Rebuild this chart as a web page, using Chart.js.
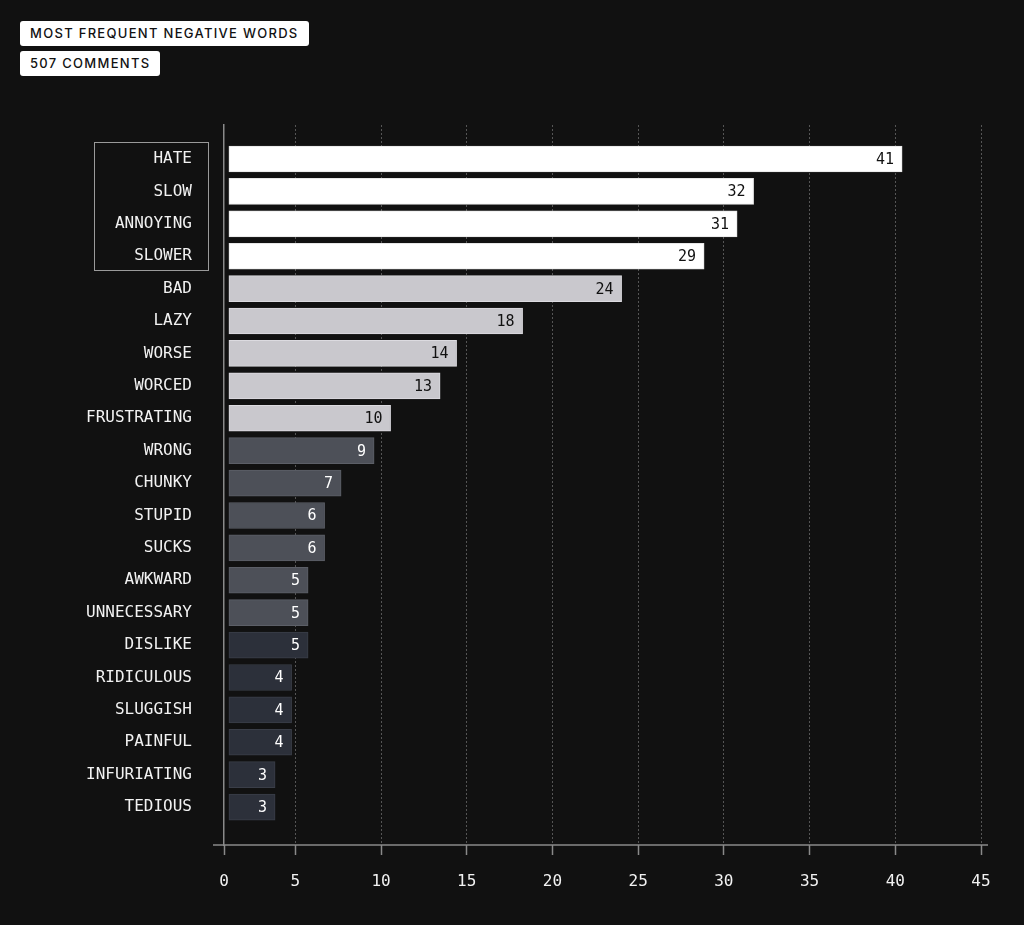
<!DOCTYPE html>
<html>
<head>
<meta charset="utf-8">
<script src="https://cdn.jsdelivr.net/npm/chart.js@4.4.1/dist/chart.umd.min.js"></script>
<style>
  html, body { margin: 0; padding: 0; background: #111111; }
  #wrap { position: relative; width: 1024px; height: 925px; }
  .tag { position: absolute; left: 20px; height: 25px; line-height: 25px; background: #ffffff; color: #111;
         border-radius: 3px; font-family: Inter, "Noto Sans", sans-serif; font-size: 13px; font-weight: 500;
         letter-spacing: 1.3px; padding: 0 10px; box-sizing: border-box; white-space: nowrap; }
  canvas { position: absolute; left: 0; top: 0; }
</style>
</head>
<body>
<div id="wrap">
  <canvas id="c" width="1024" height="925"></canvas>
  <div class="tag" style="top:21px;">MOST FREQUENT NEGATIVE WORDS</div>
  <div class="tag" style="top:51px;">507 COMMENTS</div>
</div>
<script>
const categories = ["HATE","SLOW","ANNOYING","SLOWER","BAD","LAZY","WORSE","WORCED","FRUSTRATING","WRONG",
  "CHUNKY","STUPID","SUCKS","AWKWARD","UNNECESSARY","DISLIKE","RIDICULOUS","SLUGGISH","PAINFUL","INFURIATING","TEDIOUS"];
const values = [41,32,31,29,24,18,14,13,10,9,7,6,6,5,5,5,4,4,4,3,3];
const groups = [0,0,0,0,1,1,1,1,1,2,2,2,2,2,2,3,3,3,3,3,3];
const xTickLabels = ["0","5","10","15","20","25","30","35","40","45"];
const xTickValues = [0,5,10,15,20,25,30,35,40,45];
const highlightCount = 4;

const fills = ["#ffffff","#c9c8cd","#4d5058","#2c303a"];
const edges = ["#e6e6e6","#dcdbe0","#5c5f67","#3a3e48"];
const labelInk = ["#111111","#111111","#ffffff","#ffffff"];
const MONO = "'DejaVu Sans Mono', 'Liberation Mono', monospace";

// visible axis: the first tick sits on the y-axis line, as in the reference
const X_AXIS_START = 0.84;

const valueLabels = {
  id: 'valueLabels',
  afterDatasetsDraw(chart) {
    const ctx = chart.ctx;
    const meta = chart.getDatasetMeta(0);
    ctx.save();
    ctx.font = "15px " + MONO;
    ctx.textAlign = 'right';
    ctx.textBaseline = 'middle';
    meta.data.forEach((bar, i) => {
      ctx.fillStyle = labelInk[groups[i]];
      ctx.fillText(String(values[i]), bar.x - 8, bar.y + 1);
    });
    ctx.restore();
  }
};

const frame = {
  id: 'frame',
  afterDraw(chart) {
    const ctx = chart.ctx;
    const a = chart.chartArea;
    const y = chart.scales.y;
    ctx.save();
    ctx.strokeStyle = '#8a8a8a';
    ctx.lineWidth = 1.5;
    ctx.beginPath();
    ctx.moveTo(a.left - 11, a.bottom);
    ctx.lineTo(a.right + 7, a.bottom);
    ctx.stroke();
    ctx.font = "16px " + MONO;
    let w = 0;
    for (let i = 0; i < highlightCount; i++) w = Math.max(w, ctx.measureText(categories[i]).width);
    const labelRight = a.left - 32;
    const top = y.getPixelForValue(0) - 17;
    const bottom = y.getPixelForValue(highlightCount - 1) + 14;
    const left = labelRight - w - 21;
    const right = a.left - 16;
    ctx.strokeStyle = '#9a9a9a';
    ctx.lineWidth = 1;
    ctx.strokeRect(Math.round(left) + 0.5, Math.round(top) + 0.5, Math.round(right - left), Math.round(bottom - top));
    ctx.restore();
  }
};

new Chart(document.getElementById('c'), {
  type: 'bar',
  data: {
    datasets: [{
      data: values.map((v, i) => ({ x: v, y: i })),
      backgroundColor: groups.map(g => fills[g]),
      borderColor: groups.map(g => edges[g]),
      borderWidth: 1,
      borderSkipped: false,
      barThickness: 26,
      base: 0.2,
      xAxisID: 'xb',
      yAxisID: 'y'
    }]
  },
  options: {
    indexAxis: 'y',
    responsive: false,
    animation: false,
    devicePixelRatio: 1,
    layout: { padding: { left: 0, right: 43, top: 125, bottom: 0 } },
    plugins: { legend: { display: false }, tooltip: { enabled: false } },
    scales: {
      y: {
        type: 'linear',
        reverse: true,
        offset: false,
        min: -1.05,
        max: 21.17,
        afterFit(s) { s.width = 224; },
        afterBuildTicks(s) { s.ticks = categories.map((c, i) => ({ value: i })); },
        ticks: {
          autoSkip: false,
          padding: 32,
          color: '#f2f2f2',
          font: { family: MONO, size: 16 },
          callback: (v) => (Number.isInteger(v) && v >= 0 && v < categories.length) ? categories[v] : ''
        },
        grid: { display: false, drawTicks: false },
        border: { display: true, color: '#8a8a8a', width: 1.5 }
      },
      x: {
        type: 'linear',
        position: 'bottom',
        offset: false,
        min: X_AXIS_START,
        max: xTickValues[xTickValues.length - 1],
        afterFit(s) { s.height = 80; },
        afterBuildTicks(s) {
          s.ticks = xTickValues.map(v => ({ value: Math.max(v, X_AXIS_START) }));
        },
        ticks: {
          color: '#f2f2f2',
          padding: 17,
          font: { family: MONO, size: 16 },
          maxRotation: 0,
          autoSkip: false,
          callback: (v, i) => xTickLabels[i]
        },
        grid: {
          display: true,
          color: (c) => (c.index === 0) ? 'rgba(0,0,0,0)' : '#555555',
          lineWidth: 1,
          tickLength: 10,
          tickColor: '#8a8a8a',
          tickWidth: 1.5
        },
        border: { display: false, dash: [2, 2] }
      },
      xb: {
        type: 'linear',
        display: false,
        offset: false,
        min: -0.097,
        max: 45.78
      }
    }
  },
  plugins: [valueLabels, frame]
});
</script>
</body>
</html>
